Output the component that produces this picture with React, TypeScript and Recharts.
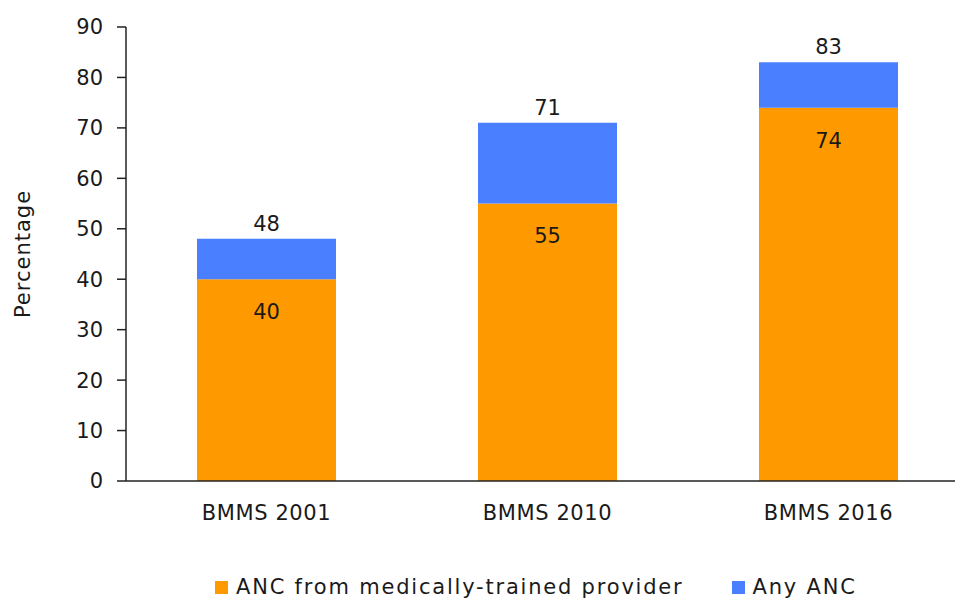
import React from "react";
import {
  BarChart, Bar, XAxis, YAxis, Legend, LabelList,
} from "recharts";

// survey rounds
const surveys = ["BMMS 2001", "BMMS 2010", "BMMS 2016"];
// % of women with ANC from medically-trained provider
const trainedAnc = [40, 55, 74];
// % with any ANC (total height of the bar)
const anyAnc = [48, 71, 83];
const yTicks = [0, 10, 20, 30, 40, 50, 60, 70, 80, 90];

const ORANGE = "#FF9900";
const BLUE = "#4A80FF";
const FONT = "'DejaVu Sans', sans-serif";
const INK = "#1a1a1a";

const data = surveys.map((name, i) => ({
  name,
  trained: trainedAnc[i],
  rest: anyAnc[i] - trainedAnc[i],
  total: anyAnc[i],
}));

const legendItems = [
  { label: "ANC from medically-trained provider", color: ORANGE },
  { label: "Any ANC", color: BLUE },
];

function ChartLegend() {
  return (
    <div style={{ display: "flex", fontFamily: FONT, fontSize: 21, letterSpacing: 1.8, color: INK, lineHeight: "24px" }}>
      {legendItems.map((it, i) => (
        <div key={it.label} style={{ display: "flex", alignItems: "center", marginLeft: i === 0 ? 215 : 48 }}>
          <span style={{ width: 13, height: 13, background: it.color, display: "inline-block", marginRight: 8 }} />
          <span>{it.label}</span>
        </div>
      ))}
    </div>
  );
}

export default function App() {
  return (
    <div style={{ position: "absolute", left: 0, top: 0, width: 955, height: 601, overflow: "hidden", background: "#fff" }}>
      <BarChart
        width={969}
        height={601}
        data={data}
        margin={{ top: 27, right: 0, bottom: 0, left: 0 }}
      >
        <XAxis
          dataKey="name"
          axisLine={{ stroke: "#222", strokeWidth: 1.5 }}
          tickLine={false}
          tickSize={0}
          tickMargin={24}
          height={96}
          tick={{ fontSize: 21, fill: INK, fontFamily: FONT, letterSpacing: 0.6 }}
        />
        <YAxis
          width={126}
          domain={[0, 90]}
          ticks={yTicks}
          interval={0}
          axisLine={{ stroke: "#222", strokeWidth: 1.5 }}
          tickLine={{ stroke: "#222", strokeWidth: 1.5 }}
          tickSize={9}
          tickMargin={14}
          tick={{ fontSize: 21, fill: INK, fontFamily: FONT }}
          label={{
            value: "Percentage",
            angle: -90,
            position: "insideLeft",
            offset: 23,
            style: { fontSize: 21, fill: INK, fontFamily: FONT, letterSpacing: 1, textAnchor: "middle" },
          }}
        />
        <Legend
          verticalAlign="bottom"
          content={() => <ChartLegend />}
          wrapperStyle={{ position: "absolute", top: 575, left: 0, width: 955, height: 24 }}
        />
        <Bar dataKey="trained" stackId="a" fill={ORANGE} barSize={139} isAnimationActive={false}>
          <LabelList
            dataKey="trained"
            position="insideTop"
            offset={25}
            style={{ fontSize: 21, fill: INK, fontFamily: FONT }}
          />
        </Bar>
        <Bar dataKey="rest" stackId="a" fill={BLUE} barSize={139} isAnimationActive={false}>
          <LabelList
            dataKey="total"
            position="top"
            offset={8}
            style={{ fontSize: 21, fill: INK, fontFamily: FONT }}
          />
        </Bar>
      </BarChart>
    </div>
  );
}
